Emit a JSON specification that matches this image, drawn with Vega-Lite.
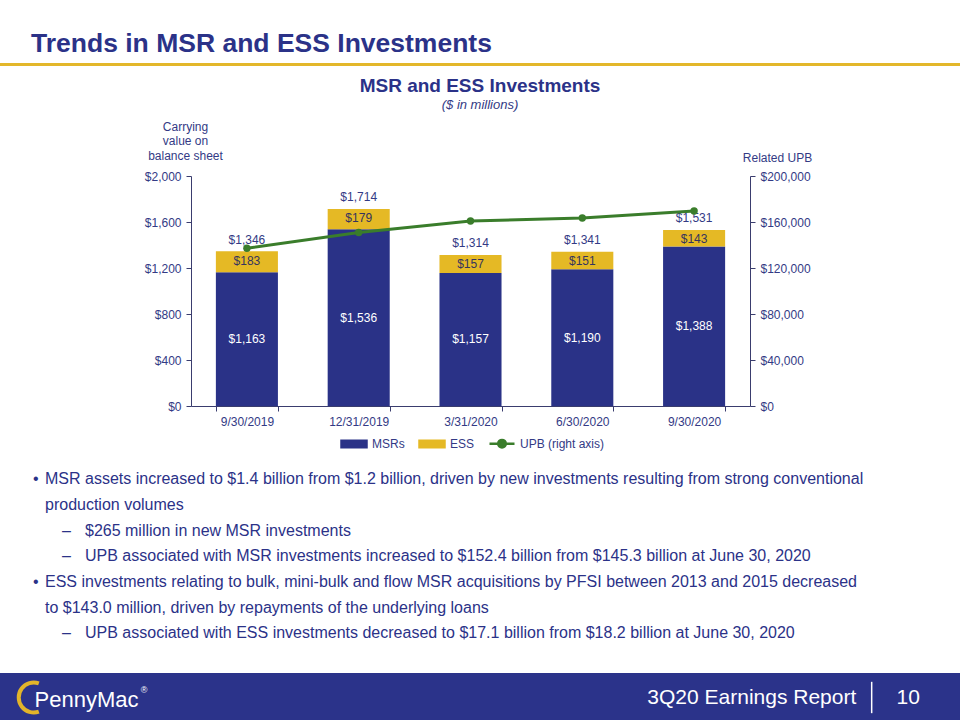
{
  "$schema": "https://vega.github.io/schema/vega-lite/v6.json",
  "background": "white",
  "padding": {"left": 0, "top": 30, "right": 0, "bottom": 0},
  "spacing": 11,
  "bounds": "full",
  "align": "none",
  "resolve": {"scale": {"color": "independent", "x": "independent", "y": "independent"}, "legend": {"color": "independent"}},
  "config": {
    "font": "Liberation Sans",
    "view": {"stroke": null},
    "axis": {"grid": false, "labelFont": "Liberation Sans", "labelFontSize": 12, "labelColor": "#333A85", "domainColor": "#3A3D6E", "tickColor": "#3A3D6E", "titleFont": "Liberation Sans", "titleFontSize": 12, "titleFontWeight": "normal", "titleColor": "#333A85"},
    "legend": {"labelFont": "Liberation Sans", "padding": 0}
  },
  "vconcat": [
    {
      "width": 960,
      "height": 3,
      "view": {"fill": "#E3B72A", "stroke": null},
      "title": {"text": "Trends in MSR and ESS Investments", "anchor": "start", "dx": 31, "offset": 6, "fontSize": 26.5, "fontWeight": "bold", "color": "#2B3288", "font": "Liberation Sans"},
      "data": {"values": [{"element": "divider"}]},
      "mark": {"type": "rect", "color": "#E3B72A"},
      "encoding": {}
    },
    {
      "spacing": 0,
      "bounds": "full",
      "resolve": {"scale": {"color": "independent"}, "legend": {"color": "independent"}},
      "hconcat": [
        {
          "width": 1,
          "height": 1,
          "data": {"values": [{"spacer": ""}]},
          "mark": {"type": "text"},
          "encoding": {"text": {"field": "spacer"}}
        },
        {
          "width": 559,
          "height": 230,
          "title": {"text": "MSR and ESS Investments", "subtitle": "($ in millions)", "anchor": "middle", "dx": 9.5, "offset": 8, "fontSize": 19, "fontWeight": "bold", "color": "#2B3288", "font": "Liberation Sans", "subtitleFont": "Liberation Sans", "subtitleFontSize": 13, "subtitleFontStyle": "italic", "subtitleColor": "#333A85", "subtitlePadding": 3},
          "data": {"values": [
            {"date": "9/30/2019", "msr": 1163, "ess": 183, "total": 1346, "upb": 137200},
            {"date": "12/31/2019", "msr": 1536, "ess": 179, "total": 1714, "upb": 150800},
            {"date": "3/31/2020", "msr": 1157, "ess": 157, "total": 1314, "upb": 160800},
            {"date": "6/30/2020", "msr": 1190, "ess": 151, "total": 1341, "upb": 163500},
            {"date": "9/30/2020", "msr": 1388, "ess": 143, "total": 1531, "upb": 169500}
          ]},
          "encoding": {
            "x": {"field": "date", "type": "ordinal", "sort": null, "scale": {"paddingInner": 0.445, "paddingOuter": 0.2225}, "axis": {"title": null, "labelAngle": 0, "tickBand": "extent", "tickSize": 5, "labelPadding": 5}}
          },
          "layer": [
            {
              "layer": [
                {
                  "mark": {"type": "bar"},
                  "encoding": {
                    "y": {"field": "msr", "type": "quantitative", "scale": {"domain": [0, 2000]}, "axis": {"title": ["Carrying", "value  on", "balance  sheet"], "titleAngle": 0, "titleAlign": "center", "titleBaseline": "middle", "titleX": -6, "titleY": -50, "titleLineHeight": 14.5, "values": [0, 400, 800, 1200, 1600, 2000], "format": "$,d", "tickSize": 5, "labelPadding": 5, "minExtent": 190}},
                    "color": {"datum": "MSRs", "type": "nominal", "scale": {"domain": ["MSRs", "ESS", "UPB (right axis)"], "range": ["#2A3287", "#E5B925", "#3A7D2B"]},
                      "legend": {"orient": "none", "legendX": 149, "legendY": 253.5, "direction": "horizontal", "title": null, "labelFontSize": 12, "labelColor": "#333A85", "symbolSize": 625, "columnPadding": 9, "labelOffset": 4,
                        "encode": {"symbols": {"update": {
                          "shape": {"signal": "datum.value === 'UPB (right axis)' ? 'M-1,0H1M-0.3,0A0.3,0.3 0 1,0 0.3,0A0.3,0.3 0 1,0 -0.3,0Z' : 'M-1,-0.26H1V0.26H-1Z'"},
                          "fill": {"signal": "scale('color', datum.value)"},
                          "stroke": {"signal": "datum.value === 'UPB (right axis)' ? scale('color', datum.value) : 'transparent'"},
                          "strokeWidth": {"value": 2.5},
                          "opacity": {"value": 1}
                        }}}}
                    }
                  }
                },
                {
                  "mark": {"type": "bar"},
                  "encoding": {
                    "y": {"field": "msr", "type": "quantitative"},
                    "y2": {"field": "total"},
                    "color": {"datum": "ESS", "type": "nominal"}
                  }
                },
                {
                  "mark": {"type": "text", "baseline": "middle", "dy": 9.5, "fontSize": 12, "color": "#35345E"},
                  "encoding": {
                    "y": {"field": "total", "type": "quantitative"},
                    "text": {"field": "ess", "type": "quantitative", "format": "$,d"}
                  }
                },
                {
                  "mark": {"type": "text", "baseline": "middle", "dy": -11.5, "fontSize": 12, "color": "#333A85"},
                  "encoding": {
                    "y": {"field": "total", "type": "quantitative"},
                    "text": {"field": "total", "type": "quantitative", "format": "$,d"}
                  }
                }
              ]
            },
            {
              "mark": {"type": "text", "baseline": "middle", "fontSize": 12, "color": "white"},
              "encoding": {
                "y": {"field": "msr", "type": "quantitative", "scale": {"domain": [0, 4000]}, "axis": null},
                "text": {"field": "msr", "type": "quantitative", "format": "$,d"}
              }
            },
            {
              "mark": {"type": "line", "strokeWidth": 3, "point": {"filled": true, "size": 55}},
              "encoding": {
                "y": {"field": "upb", "type": "quantitative", "scale": {"domain": [0, 200000]}, "axis": {"orient": "right", "title": "Related UPB", "titleAngle": 0, "titleAlign": "center", "titleBaseline": "middle", "titleX": 27, "titleY": -19, "values": [0, 40000, 80000, 120000, 160000, 200000], "format": "$,d", "tickSize": 5, "labelPadding": 5}},
                "color": {"datum": "UPB (right axis)", "type": "nominal"}
              }
            }
          ],
          "resolve": {"scale": {"y": "independent"}}
        }
      ]
    },
    {
      "width": 960,
      "height": 197.5,
      "data": {"values": [
        {"line": 1, "level": 1, "marker": "•", "text": "MSR assets increased to $1.4 billion from $1.2 billion, driven by new investments resulting from strong conventional"},
        {"line": 2, "level": 1, "marker": "", "text": "production volumes"},
        {"line": 3, "level": 2, "marker": "–", "text": "$265 million in new MSR investments"},
        {"line": 4, "level": 2, "marker": "–", "text": "UPB associated with MSR investments increased to $152.4 billion from $145.3 billion at June 30, 2020"},
        {"line": 5, "level": 1, "marker": "•", "text": "ESS investments relating to bulk, mini-bulk and flow MSR acquisitions by PFSI between 2013 and 2015 decreased"},
        {"line": 6, "level": 1, "marker": "", "text": "to $143.0 million, driven by repayments of the underlying loans"},
        {"line": 7, "level": 2, "marker": "–", "text": "UPB associated with ESS investments decreased to $17.1 billion from $18.2 billion at June 30, 2020"}
      ]},
      "encoding": {
        "y": {"field": "line", "type": "ordinal", "axis": null, "scale": {"type": "point", "padding": 0.847, "align": 0.356}}
      },
      "layer": [
        {
          "mark": {"type": "text", "align": "left", "baseline": "middle", "fontSize": 16, "color": "#2B3288"},
          "encoding": {
            "x": {"field": "level", "type": "quantitative", "scale": {"domain": [1, 2], "range": [45, 85]}, "axis": null},
            "text": {"field": "text"}
          }
        },
        {
          "mark": {"type": "text", "align": "left", "baseline": "middle", "fontSize": 16, "color": "#2B3288"},
          "encoding": {
            "x": {"field": "level", "type": "quantitative", "scale": {"domain": [1, 2], "range": [33, 62]}, "axis": null},
            "text": {"field": "marker"}
          }
        }
      ],
      "resolve": {"scale": {"x": "independent"}}
    },
    {
      "width": 960,
      "height": 49,
      "view": {"fill": "#2B338A", "stroke": null},
      "layer": [
        {
          "data": {"values": [{"part": "logo swoosh"}]},
          "mark": {"type": "point", "shape": "M0.35,-0.94A1,1 0 1,0 0.35,0.94", "filled": false, "stroke": "#E2B42A", "strokeWidth": 4, "size": 900, "opacity": 1},
          "encoding": {"x": {"datum": 3.5, "type": "quantitative", "scale": {"domain": [0, 100]}, "axis": null}}
        },
        {
          "data": {"values": [{"part": "logo", "label": "PennyMac"}]},
          "mark": {"type": "text", "align": "left", "baseline": "middle", "fontSize": 22, "color": "white", "dy": 2},
          "encoding": {"x": {"datum": 3.6, "type": "quantitative"}, "text": {"field": "label"}}
        },
        {
          "data": {"values": [{"part": "registered", "label": "®"}]},
          "mark": {"type": "text", "align": "left", "baseline": "middle", "fontSize": 9, "color": "white", "dy": -8},
          "encoding": {"x": {"datum": 14.65, "type": "quantitative"}, "text": {"field": "label"}}
        },
        {
          "data": {"values": [{"part": "report", "label": "3Q20 Earnings Report"}]},
          "mark": {"type": "text", "align": "right", "baseline": "middle", "fontSize": 21, "color": "white"},
          "encoding": {"x": {"datum": 89.2, "type": "quantitative"}, "text": {"field": "label"}}
        },
        {
          "data": {"values": [{"part": "divider"}]},
          "mark": {"type": "rule", "color": "white", "strokeWidth": 1.5},
          "encoding": {"x": {"datum": 90.8, "type": "quantitative"}, "y": {"datum": 0.18, "type": "quantitative", "scale": {"domain": [0, 1]}, "axis": null}, "y2": {"datum": 0.82}}
        },
        {
          "data": {"values": [{"part": "page", "label": "10"}]},
          "mark": {"type": "text", "align": "center", "baseline": "middle", "fontSize": 21, "color": "white"},
          "encoding": {"x": {"datum": 94.6, "type": "quantitative"}, "text": {"field": "label"}}
        }
      ]
    }
  ]
}
